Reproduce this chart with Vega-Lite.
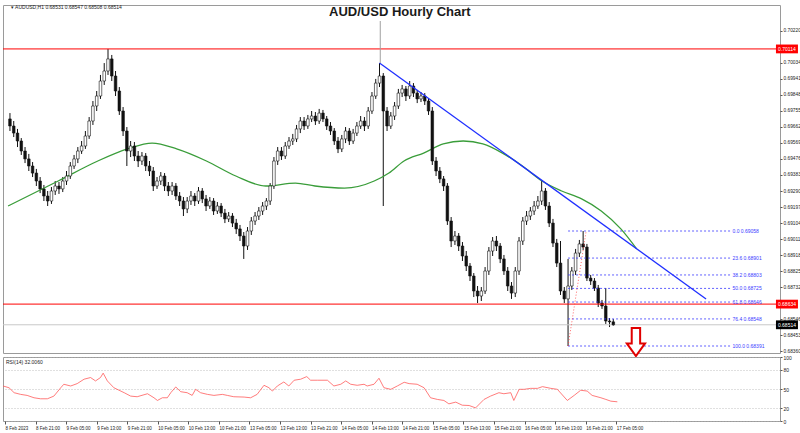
{
"$schema":"https://vega.github.io/schema/vega-lite/v6.json",
"padding":{"top":4,"left":0,"right":0,"bottom":0},
"background":"white",
"spacing":4,
"bounds":"flush",
"config":{"view":{"stroke":"#9a9a9a","strokeWidth":1},"font":"Liberation Sans",
 "axis":{"labelOverlap":false,"labelFontSize":5,"labelColor":"#222222","labelPadding":1,"tickColor":"#555555","domain":false,"grid":false,"labelFlush":false}},
"datasets":{
"candles":[
{"i":0,"o":0.69708,"h":0.69742,"l":0.69638,"c":0.69667},
{"i":1,"o":0.69667,"h":0.69696,"l":0.69603,"c":0.69626},
{"i":2,"o":0.69626,"h":0.69650,"l":0.69545,"c":0.69580},
{"i":3,"o":0.69580,"h":0.69597,"l":0.69499,"c":0.69522},
{"i":4,"o":0.69522,"h":0.69545,"l":0.69452,"c":0.69476},
{"i":5,"o":0.69476,"h":0.69505,"l":0.69406,"c":0.69435},
{"i":6,"o":0.69435,"h":0.69458,"l":0.69371,"c":0.69394},
{"i":7,"o":0.69394,"h":0.69418,"l":0.69319,"c":0.69348},
{"i":8,"o":0.69348,"h":0.69371,"l":0.69278,"c":0.69302},
{"i":9,"o":0.69302,"h":0.69325,"l":0.69232,"c":0.69261},
{"i":10,"o":0.69261,"h":0.69290,"l":0.69203,"c":0.69232},
{"i":11,"o":0.69232,"h":0.69313,"l":0.69215,"c":0.69290},
{"i":12,"o":0.69290,"h":0.69348,"l":0.69267,"c":0.69319},
{"i":13,"o":0.69319,"h":0.69342,"l":0.69273,"c":0.69302},
{"i":14,"o":0.69302,"h":0.69371,"l":0.69284,"c":0.69348},
{"i":15,"o":0.69348,"h":0.69406,"l":0.69325,"c":0.69377},
{"i":16,"o":0.69377,"h":0.69458,"l":0.69360,"c":0.69435},
{"i":17,"o":0.69435,"h":0.69499,"l":0.69418,"c":0.69476},
{"i":18,"o":0.69476,"h":0.69545,"l":0.69452,"c":0.69522},
{"i":19,"o":0.69522,"h":0.69580,"l":0.69505,"c":0.69551},
{"i":20,"o":0.69551,"h":0.69638,"l":0.69534,"c":0.69609},
{"i":21,"o":0.69609,"h":0.69719,"l":0.69592,"c":0.69696},
{"i":22,"o":0.69696,"h":0.69812,"l":0.69673,"c":0.69783},
{"i":23,"o":0.69783,"h":0.69870,"l":0.69754,"c":0.69841},
{"i":24,"o":0.69841,"h":0.69963,"l":0.69824,"c":0.69928},
{"i":25,"o":0.69928,"h":0.70032,"l":0.69905,"c":0.69986},
{"i":26,"o":0.69986,"h":0.70114,"l":0.69963,"c":0.70056},
{"i":27,"o":0.70056,"h":0.70079,"l":0.69928,"c":0.69957},
{"i":28,"o":0.69957,"h":0.69986,"l":0.69841,"c":0.69870},
{"i":29,"o":0.69870,"h":0.69893,"l":0.69731,"c":0.69754},
{"i":30,"o":0.69754,"h":0.69777,"l":0.69609,"c":0.69638},
{"i":31,"o":0.69638,"h":0.69661,"l":0.69435,"c":0.69522},
{"i":32,"o":0.69522,"h":0.69580,"l":0.69487,"c":0.69551},
{"i":33,"o":0.69551,"h":0.69574,"l":0.69464,"c":0.69493},
{"i":34,"o":0.69493,"h":0.69522,"l":0.69429,"c":0.69464},
{"i":35,"o":0.69464,"h":0.69516,"l":0.69441,"c":0.69493},
{"i":36,"o":0.69493,"h":0.69510,"l":0.69406,"c":0.69435},
{"i":37,"o":0.69435,"h":0.69464,"l":0.69377,"c":0.69406},
{"i":38,"o":0.69406,"h":0.69429,"l":0.69290,"c":0.69319},
{"i":39,"o":0.69319,"h":0.69371,"l":0.69302,"c":0.69348},
{"i":40,"o":0.69348,"h":0.69400,"l":0.69325,"c":0.69377},
{"i":41,"o":0.69377,"h":0.69394,"l":0.69290,"c":0.69319},
{"i":42,"o":0.69319,"h":0.69342,"l":0.69261,"c":0.69290},
{"i":43,"o":0.69290,"h":0.69342,"l":0.69267,"c":0.69319},
{"i":44,"o":0.69319,"h":0.69336,"l":0.69238,"c":0.69261},
{"i":45,"o":0.69261,"h":0.69284,"l":0.69203,"c":0.69232},
{"i":46,"o":0.69232,"h":0.69255,"l":0.69145,"c":0.69186},
{"i":47,"o":0.69186,"h":0.69255,"l":0.69162,"c":0.69232},
{"i":48,"o":0.69232,"h":0.69290,"l":0.69209,"c":0.69261},
{"i":49,"o":0.69261,"h":0.69278,"l":0.69203,"c":0.69232},
{"i":50,"o":0.69232,"h":0.69313,"l":0.69215,"c":0.69290},
{"i":51,"o":0.69290,"h":0.69307,"l":0.69220,"c":0.69244},
{"i":52,"o":0.69244,"h":0.69267,"l":0.69174,"c":0.69203},
{"i":53,"o":0.69203,"h":0.69255,"l":0.69186,"c":0.69232},
{"i":54,"o":0.69232,"h":0.69249,"l":0.69151,"c":0.69174},
{"i":55,"o":0.69174,"h":0.69226,"l":0.69157,"c":0.69203},
{"i":56,"o":0.69203,"h":0.69220,"l":0.69139,"c":0.69162},
{"i":57,"o":0.69162,"h":0.69186,"l":0.69104,"c":0.69128},
{"i":58,"o":0.69128,"h":0.69168,"l":0.69110,"c":0.69145},
{"i":59,"o":0.69145,"h":0.69162,"l":0.69081,"c":0.69104},
{"i":60,"o":0.69104,"h":0.69128,"l":0.69041,"c":0.69070},
{"i":61,"o":0.69070,"h":0.69093,"l":0.69000,"c":0.69029},
{"i":62,"o":0.69029,"h":0.69052,"l":0.68896,"c":0.68971},
{"i":63,"o":0.68971,"h":0.69081,"l":0.68948,"c":0.69058},
{"i":64,"o":0.69058,"h":0.69139,"l":0.69035,"c":0.69116},
{"i":65,"o":0.69116,"h":0.69168,"l":0.69093,"c":0.69145},
{"i":66,"o":0.69145,"h":0.69197,"l":0.69122,"c":0.69174},
{"i":67,"o":0.69174,"h":0.69226,"l":0.69151,"c":0.69203},
{"i":68,"o":0.69203,"h":0.69249,"l":0.69180,"c":0.69232},
{"i":69,"o":0.69232,"h":0.69336,"l":0.69209,"c":0.69319},
{"i":70,"o":0.69319,"h":0.69487,"l":0.69302,"c":0.69464},
{"i":71,"o":0.69464,"h":0.69545,"l":0.69441,"c":0.69522},
{"i":72,"o":0.69522,"h":0.69545,"l":0.69470,"c":0.69493},
{"i":73,"o":0.69493,"h":0.69574,"l":0.69476,"c":0.69551},
{"i":74,"o":0.69551,"h":0.69603,"l":0.69534,"c":0.69580},
{"i":75,"o":0.69580,"h":0.69621,"l":0.69557,"c":0.69592},
{"i":76,"o":0.69592,"h":0.69673,"l":0.69574,"c":0.69650},
{"i":77,"o":0.69650,"h":0.69719,"l":0.69626,"c":0.69696},
{"i":78,"o":0.69696,"h":0.69719,"l":0.69644,"c":0.69667},
{"i":79,"o":0.69667,"h":0.69731,"l":0.69650,"c":0.69708},
{"i":80,"o":0.69708,"h":0.69754,"l":0.69690,"c":0.69725},
{"i":81,"o":0.69725,"h":0.69748,"l":0.69673,"c":0.69696},
{"i":82,"o":0.69696,"h":0.69766,"l":0.69679,"c":0.69742},
{"i":83,"o":0.69742,"h":0.69760,"l":0.69690,"c":0.69708},
{"i":84,"o":0.69708,"h":0.69725,"l":0.69644,"c":0.69667},
{"i":85,"o":0.69667,"h":0.69690,"l":0.69615,"c":0.69638},
{"i":86,"o":0.69638,"h":0.69655,"l":0.69557,"c":0.69580},
{"i":87,"o":0.69580,"h":0.69603,"l":0.69510,"c":0.69534},
{"i":88,"o":0.69534,"h":0.69615,"l":0.69516,"c":0.69592},
{"i":89,"o":0.69592,"h":0.69661,"l":0.69568,"c":0.69638},
{"i":90,"o":0.69638,"h":0.69655,"l":0.69557,"c":0.69580},
{"i":91,"o":0.69580,"h":0.69650,"l":0.69563,"c":0.69626},
{"i":92,"o":0.69626,"h":0.69690,"l":0.69609,"c":0.69667},
{"i":93,"o":0.69667,"h":0.69725,"l":0.69650,"c":0.69696},
{"i":94,"o":0.69696,"h":0.69719,"l":0.69638,"c":0.69667},
{"i":95,"o":0.69667,"h":0.69777,"l":0.69650,"c":0.69754},
{"i":96,"o":0.69754,"h":0.69864,"l":0.69737,"c":0.69841},
{"i":97,"o":0.69841,"h":0.69940,"l":0.69824,"c":0.69916},
{"i":98,"o":0.69916,"h":0.70032,"l":0.69893,"c":0.69957},
{"i":99,"o":0.69957,"h":0.69974,"l":0.69203,"c":0.69754},
{"i":100,"o":0.69754,"h":0.69777,"l":0.69638,"c":0.69667},
{"i":101,"o":0.69667,"h":0.69748,"l":0.69650,"c":0.69725},
{"i":102,"o":0.69725,"h":0.69806,"l":0.69702,"c":0.69783},
{"i":103,"o":0.69783,"h":0.69882,"l":0.69766,"c":0.69858},
{"i":104,"o":0.69858,"h":0.69905,"l":0.69835,"c":0.69882},
{"i":105,"o":0.69882,"h":0.69899,"l":0.69812,"c":0.69841},
{"i":106,"o":0.69841,"h":0.69928,"l":0.69824,"c":0.69899},
{"i":107,"o":0.69899,"h":0.69916,"l":0.69835,"c":0.69858},
{"i":108,"o":0.69858,"h":0.69876,"l":0.69800,"c":0.69824},
{"i":109,"o":0.69824,"h":0.69864,"l":0.69806,"c":0.69841},
{"i":110,"o":0.69841,"h":0.69858,"l":0.69789,"c":0.69812},
{"i":111,"o":0.69812,"h":0.69829,"l":0.69731,"c":0.69754},
{"i":112,"o":0.69754,"h":0.69777,"l":0.69441,"c":0.69464},
{"i":113,"o":0.69464,"h":0.69487,"l":0.69377,"c":0.69406},
{"i":114,"o":0.69406,"h":0.69429,"l":0.69336,"c":0.69360},
{"i":115,"o":0.69360,"h":0.69377,"l":0.69290,"c":0.69319},
{"i":116,"o":0.69319,"h":0.69336,"l":0.69093,"c":0.69116},
{"i":117,"o":0.69116,"h":0.69139,"l":0.68965,"c":0.69000},
{"i":118,"o":0.69000,"h":0.69058,"l":0.68977,"c":0.69029},
{"i":119,"o":0.69029,"h":0.69046,"l":0.68942,"c":0.68971},
{"i":120,"o":0.68971,"h":0.68994,"l":0.68884,"c":0.68913},
{"i":121,"o":0.68913,"h":0.68942,"l":0.68826,"c":0.68855},
{"i":122,"o":0.68855,"h":0.68872,"l":0.68768,"c":0.68797},
{"i":123,"o":0.68797,"h":0.68814,"l":0.68675,"c":0.68710},
{"i":124,"o":0.68710,"h":0.68739,"l":0.68640,"c":0.68681},
{"i":125,"o":0.68681,"h":0.68733,"l":0.68652,"c":0.68710},
{"i":126,"o":0.68710,"h":0.68849,"l":0.68693,"c":0.68826},
{"i":127,"o":0.68826,"h":0.68965,"l":0.68803,"c":0.68942},
{"i":128,"o":0.68942,"h":0.69023,"l":0.68913,"c":0.69000},
{"i":129,"o":0.69000,"h":0.69029,"l":0.68942,"c":0.68971},
{"i":130,"o":0.68971,"h":0.68988,"l":0.68872,"c":0.68896},
{"i":131,"o":0.68896,"h":0.68919,"l":0.68803,"c":0.68826},
{"i":132,"o":0.68826,"h":0.68849,"l":0.68710,"c":0.68739},
{"i":133,"o":0.68739,"h":0.68762,"l":0.68664,"c":0.68698},
{"i":134,"o":0.68698,"h":0.68849,"l":0.68675,"c":0.68826},
{"i":135,"o":0.68826,"h":0.69023,"l":0.68803,"c":0.69000},
{"i":136,"o":0.69000,"h":0.69139,"l":0.68977,"c":0.69116},
{"i":137,"o":0.69116,"h":0.69174,"l":0.69093,"c":0.69145},
{"i":138,"o":0.69145,"h":0.69197,"l":0.69122,"c":0.69174},
{"i":139,"o":0.69174,"h":0.69232,"l":0.69151,"c":0.69203},
{"i":140,"o":0.69203,"h":0.69261,"l":0.69186,"c":0.69232},
{"i":141,"o":0.69232,"h":0.69348,"l":0.69209,"c":0.69290},
{"i":142,"o":0.69290,"h":0.69307,"l":0.69180,"c":0.69203},
{"i":143,"o":0.69203,"h":0.69226,"l":0.69081,"c":0.69104},
{"i":144,"o":0.69104,"h":0.69128,"l":0.68965,"c":0.68988},
{"i":145,"o":0.68988,"h":0.69012,"l":0.68849,"c":0.68872},
{"i":146,"o":0.68872,"h":0.69000,"l":0.68687,"c":0.68710},
{"i":147,"o":0.68710,"h":0.68733,"l":0.68640,"c":0.68664},
{"i":148,"o":0.68664,"h":0.68896,"l":0.68391,"c":0.68739},
{"i":149,"o":0.68739,"h":0.68849,"l":0.68716,"c":0.68826},
{"i":150,"o":0.68826,"h":0.68954,"l":0.68803,"c":0.68930},
{"i":151,"o":0.68930,"h":0.69006,"l":0.68907,"c":0.68983},
{"i":152,"o":0.68983,"h":0.69058,"l":0.68948,"c":0.68965},
{"i":153,"o":0.68965,"h":0.68983,"l":0.68768,"c":0.68785},
{"i":154,"o":0.68785,"h":0.68803,"l":0.68745,"c":0.68768},
{"i":155,"o":0.68768,"h":0.68785,"l":0.68710,"c":0.68727},
{"i":156,"o":0.68727,"h":0.68745,"l":0.68617,"c":0.68640},
{"i":157,"o":0.68640,"h":0.68658,"l":0.68606,"c":0.68623},
{"i":158,"o":0.68623,"h":0.68727,"l":0.68519,"c":0.68536},
{"i":159,"o":0.68536,"h":0.68553,"l":0.68501,"c":0.68531},
{"i":160,"o":0.68531,"h":0.68547,"l":0.68508,"c":0.68514}
],
"ma":[
{"i":-0.5,"v":0.69203},{"i":12.8,"v":0.69348},{"i":23.3,"v":0.69464},{"i":31.2,"v":0.69534},{"i":37.7,"v":0.69568},{"i":44.2,"v":0.69534},{"i":52.1,"v":0.69464},{"i":59.9,"v":0.69377},{"i":67.8,"v":0.69319},{"i":75.7,"v":0.69336},{"i":80.9,"v":0.69319},{"i":88.7,"v":0.69307},{"i":96.6,"v":0.69348},{"i":100.5,"v":0.69394},{"i":104.5,"v":0.69464},{"i":109.7,"v":0.69510},{"i":114.9,"v":0.69563},{"i":120.2,"v":0.69580},{"i":125.4,"v":0.69563},{"i":130.6,"v":0.69510},{"i":135.9,"v":0.69435},{"i":141.1,"v":0.69348},{"i":146.3,"v":0.69290},{"i":151.6,"v":0.69244},{"i":156.8,"v":0.69174},{"i":162,"v":0.69070},{"i":166.2,"v":0.68954}
],
"rsi":[
{"i":-0.5,"v":54.7},{"i":1.05,"v":52},{"i":2.4,"v":44.2},{"i":4.1,"v":41.6},{"i":5.8,"v":40},{"i":7.6,"v":36.3},{"i":9.3,"v":34.7},{"i":11.1,"v":34.7},{"i":12.8,"v":38.9},{"i":14.6,"v":52},{"i":15.4,"v":57.4},{"i":17.2,"v":54.7},{"i":18.9,"v":58.4},{"i":20.7,"v":65.3},{"i":22.4,"v":67.9},{"i":23.7,"v":62.6},{"i":25,"v":67.9},{"i":25.7,"v":74.8},{"i":26.8,"v":62.6},{"i":28.5,"v":52},{"i":31.2,"v":44.2},{"i":32.9,"v":38.9},{"i":34.6,"v":37.9},{"i":37.3,"v":42.6},{"i":39,"v":36.3},{"i":39.9,"v":32.1},{"i":41.2,"v":36.3},{"i":42.5,"v":36.3},{"i":43.4,"v":44.2},{"i":44.7,"v":53.2},{"i":46,"v":45.8},{"i":47.7,"v":44.2},{"i":49,"v":40},{"i":49.9,"v":49.5},{"i":51.2,"v":44.2},{"i":53,"v":41.6},{"i":54.7,"v":40},{"i":56.9,"v":41.6},{"i":58.2,"v":40},{"i":59.9,"v":37.9},{"i":62.6,"v":37.4},{"i":64.3,"v":36.3},{"i":66,"v":41.6},{"i":67.8,"v":55.8},{"i":69.1,"v":52},{"i":70,"v":46.8},{"i":71.3,"v":54.7},{"i":73,"v":61},{"i":74.3,"v":54.7},{"i":75.7,"v":63.7},{"i":77.4,"v":65.3},{"i":79,"v":69.4},{"i":80,"v":63.7},{"i":81.8,"v":63.7},{"i":84.4,"v":63.7},{"i":86.1,"v":54.7},{"i":87.9,"v":57.4},{"i":89.2,"v":62.6},{"i":90.5,"v":57.4},{"i":92.2,"v":55.8},{"i":94,"v":57.4},{"i":94.8,"v":54.7},{"i":96.6,"v":57.4},{"i":97.9,"v":66.8},{"i":99.2,"v":52},{"i":101,"v":49.5},{"i":102.7,"v":54.7},{"i":104.5,"v":60.5},{"i":105.8,"v":58.4},{"i":107.9,"v":57.4},{"i":109.7,"v":52},{"i":111.4,"v":36.3},{"i":113.2,"v":33.7},{"i":114.9,"v":32.1},{"i":116.2,"v":26.8},{"i":118,"v":29.5},{"i":119.7,"v":24.7},{"i":121.5,"v":24.2},{"i":123.2,"v":20.5},{"i":125.4,"v":33.7},{"i":127.1,"v":38.9},{"i":129.3,"v":44.2},{"i":130.6,"v":42.6},{"i":132.4,"v":44.2},{"i":133.2,"v":32.1},{"i":134.6,"v":49.5},{"i":135.9,"v":49.5},{"i":137.6,"v":51},{"i":139.4,"v":51},{"i":140.7,"v":53.7},{"i":142.9,"v":51},{"i":144.6,"v":49.5},{"i":147.2,"v":32.1},{"i":149,"v":40},{"i":150.7,"v":48},{"i":152.4,"v":46.8},{"i":153.7,"v":40},{"i":156,"v":36.3},{"i":157.3,"v":33.7},{"i":158.6,"v":31},{"i":160.3,"v":30}
],
"trend":[{"i":98,"p":0.70032},{"i":184.6,"p":0.68664}],
"fibline":[{"i":148,"p":0.68391},{"i":152.8,"p":0.69058}],
"fib":[
{"label":"0.0  0.69058","p":0.69058},
{"label":"23.6  0.68901","p":0.68901},
{"label":"38.2  0.68803","p":0.68803},
{"label":"50.0  0.68725","p":0.68725},
{"label":"61.8  0.68646","p":0.68646},
{"label":"76.4  0.68548","p":0.68548},
{"label":"100.0  0.68391","p":0.68391}
],
"levels":[{"p":0.70114,"t":"0.70114","kind":"level"},{"p":0.68634,"t":"0.68634","kind":"level"},{"p":0.68514,"t":"0.68514","kind":"current"}]
},
"vconcat":[
{
"width":777,"height":348,
"layer":[
{"data":{"name":"candles"},"mark":{"type":"rule","color":"#111111","strokeWidth":1},
 "encoding":{
  "x":{"field":"i","type":"quantitative","scale":{"domain":[-0.52,202.88],"nice":false,"zero":false},"axis":null},
  "y":{"field":"l","type":"quantitative","scale":{"domain":[0.683504,0.703688],"nice":false,"zero":false},
       "axis":{"orient":"right","title":null,"tickSize":2,"format":".5f","labelOverlap":false,"tickCount":100,"labelFontSize":4.8,
               "values":[0.68360,0.68453,0.68546,0.68732,0.68825,0.68918,0.69011,0.69104,0.69197,0.69290,0.69383,0.69476,0.69569,0.69662,0.69755,0.69848,0.69941,0.70034,0.70220]}},
  "y2":{"field":"h"}}},
{"data":{"name":"levels"},"transform":[{"filter":"datum.kind == 'current'"}],"mark":{"type":"rule","color":"#c8c8c8","strokeWidth":1},
 "encoding":{"y":{"field":"p","type":"quantitative"}}},
{"data":{"name":"ma"},"mark":{"type":"line","color":"#3a9d3a","strokeWidth":1.3,"interpolate":"monotone"},
 "encoding":{"x":{"field":"i","type":"quantitative","axis":null},"y":{"field":"v","type":"quantitative"}}},
{"data":{"name":"candles"},"mark":{"type":"bar","size":2.6,"stroke":"#111111","strokeWidth":0.6},
 "encoding":{"x":{"field":"i","type":"quantitative","axis":null},"y":{"field":"o","type":"quantitative"},"y2":{"field":"c"},
  "fill":{"condition":{"test":"datum.c >= datum.o","value":"#ffffff"},"value":"#111111"}}},
{"data":{"name":"levels"},"transform":[{"filter":"datum.kind == 'level'"}],"mark":{"type":"rule","color":"#ff0000","strokeWidth":1},
 "encoding":{"y":{"field":"p","type":"quantitative"}}},
{"data":{"name":"trend"},"mark":{"type":"line","color":"#1f2fff","strokeWidth":1.3},
 "encoding":{"x":{"field":"i","type":"quantitative","axis":null},"y":{"field":"p","type":"quantitative"}}},
{"data":{"name":"fib"},"mark":{"type":"rule","color":"#3a3aff","strokeWidth":0.8,"strokeDash":[2,2]},
 "encoding":{"x":{"datum":148,"type":"quantitative","axis":null},"x2":{"datum":191.3},"y":{"field":"p","type":"quantitative"}}},
{"data":{"name":"fib"},"mark":{"type":"text","align":"left","baseline":"middle","fontSize":5,"color":"#3a3aff"},
 "encoding":{"x":{"datum":191.6,"type":"quantitative","axis":null},"y":{"field":"p","type":"quantitative"},"text":{"field":"label"}}},
{"data":{"name":"fibline"},"mark":{"type":"line","color":"#ff4040","strokeWidth":0.8,"strokeDash":[1,2]},
 "encoding":{"x":{"field":"i","type":"quantitative","axis":null},"y":{"field":"p","type":"quantitative"}}},
{"data":{"values":[{}]},"mark":{"type":"rule","color":"#a0a0a0","strokeWidth":1},
 "encoding":{"x":{"datum":98.2,"type":"quantitative","axis":null},"y":{"datum":0.70276,"type":"quantitative"},"y2":{"datum":0.70032}}},
{"data":{"values":[{}]},"mark":{"type":"point","shape":"M -0.3 -1 L 0.3 -1 L 0.3 0.1 L 0.65 0.1 L 0 1 L -0.65 0.1 L -0.3 0.1 Z","size":784,"filled":true,"fill":"#ffffff","stroke":"#e00000","strokeWidth":2,"opacity":1},
 "encoding":{"x":{"datum":166,"type":"quantitative","axis":null},"y":{"datum":0.68414,"type":"quantitative"}}},
{"data":{"name":"levels"},"mark":{"type":"point","shape":"M -1 -0.4 L 1 -0.4 L 1 0.4 L -1 0.4 Z","size":484,"filled":true,"opacity":1,"strokeWidth":0},
 "encoding":{"x":{"datum":206.05,"type":"quantitative","axis":null},"y":{"field":"p","type":"quantitative"},
  "fill":{"condition":{"test":"datum.kind == 'current'","value":"#000000"},"value":"#ff0000"}}},
{"data":{"name":"levels"},"mark":{"type":"text","align":"center","baseline":"middle","fontSize":5,"color":"#ffffff"},
 "encoding":{"x":{"datum":206.05,"type":"quantitative","axis":null},"y":{"field":"p","type":"quantitative"},"text":{"field":"t"}}},
{"data":{"values":[{}]},"mark":{"type":"text","align":"center","baseline":"middle","fontSize":13,"fontWeight":"bold","color":"#1a1a1a","text":"AUD/USD Hourly Chart"},
 "encoding":{"x":{"datum":103.4,"type":"quantitative","axis":null},"y":{"datum":0.70330,"type":"quantitative"}}},
{"data":{"values":[{}]},"mark":{"type":"text","align":"left","baseline":"middle","fontSize":5,"color":"#222","dx":3,"text":"▾ AUDUSD,H1  0.68531 0.68547 0.68508 0.68514"},
 "encoding":{"x":{"datum":-0.52,"type":"quantitative","axis":null},"y":{"datum":0.70357,"type":"quantitative"}}}
]
},
{
"width":777,"height":64,
"layer":[
{"data":{"name":"rsi"},"mark":{"type":"line","color":"#ff5a5a","strokeWidth":0.8},
 "encoding":{
  "x":{"field":"i","type":"quantitative","scale":{"domain":[-0.52,202.88],"nice":false,"zero":false},
       "axis":{"title":null,"tickSize":3,"labelAlign":"left","labelOverlap":false,"tickCount":100,"labelFontSize":4.5,
               "values":[0,8,16,24,32,40,48,56,64,72,80,88,96,104,112,120,128,136,144,152,160],
               "labelExpr":"['8 Feb 2023','8 Feb 21:00','9 Feb 05:00','9 Feb 13:00','9 Feb 21:00','10 Feb 05:00','10 Feb 13:00','10 Feb 21:00','13 Feb 05:00','13 Feb 13:00','13 Feb 21:00','14 Feb 05:00','14 Feb 13:00','14 Feb 21:00','15 Feb 05:00','15 Feb 13:00','15 Feb 21:00','16 Feb 05:00','16 Feb 13:00','16 Feb 21:00','17 Feb 05:00'][round(datum.value/8)]"}},
  "y":{"field":"v","type":"quantitative","scale":{"domain":[0,100],"nice":false,"zero":false},
       "axis":{"orient":"right","title":null,"grid":true,"gridColor":"#b0b0b0","gridDash":[1,2],"gridWidth":0.8,"tickSize":2,"labelOverlap":false,"tickCount":100,"values":[0,20,50,80,100]}}}},
{"data":{"values":[{}]},"mark":{"type":"text","align":"left","baseline":"middle","fontSize":5,"color":"#222","dx":3,"text":"RSI(14) 32.0060"},
 "encoding":{"x":{"datum":-0.52,"type":"quantitative"},"y":{"datum":92,"type":"quantitative"}}}
]
}
]
}
